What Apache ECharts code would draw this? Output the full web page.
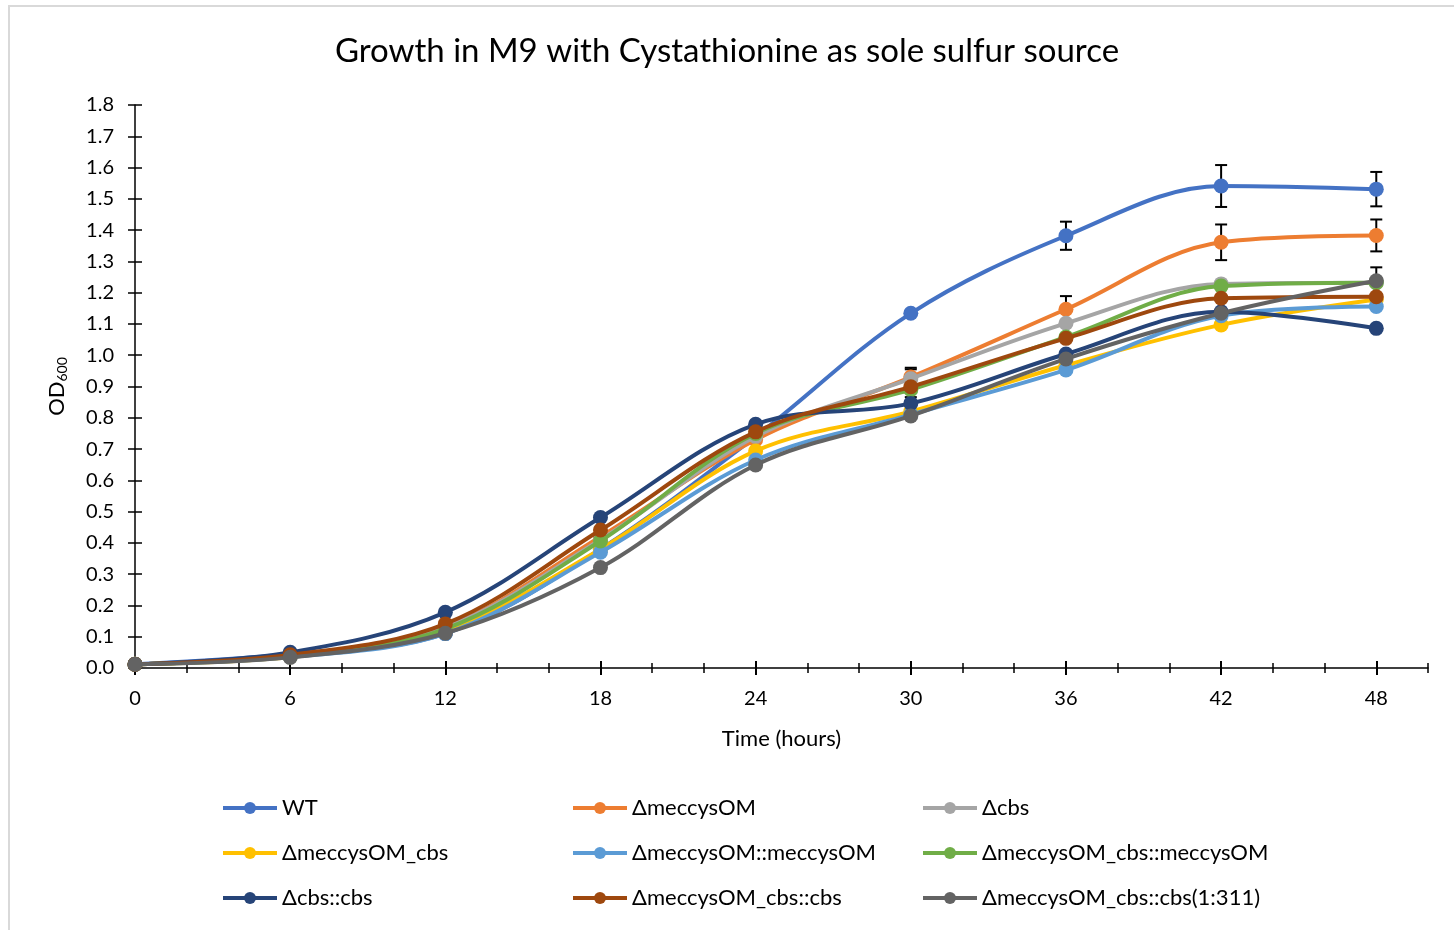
<!DOCTYPE html>
<html>
<head>
<meta charset="utf-8">
<script src="https://cdn.jsdelivr.net/npm/echarts@6/dist/echarts.min.js"></script>
<style>
html, body { margin: 0; padding: 0; background: #fff; }
#main { width: 1454px; height: 930px; }
</style>
</head>
<body>
<div id="main"></div>
<script>
// sampling times (hours) and labelled ticks
var hours = [0, 6, 12, 18, 24, 30, 36, 42, 48];
var hourLabels = [0, 6, 12, 18, 24, 30, 36, 42, 48];

var names = ['WT', 'ΔmeccysOM', 'Δcbs', 'ΔmeccysOM_cbs', 'ΔmeccysOM::meccysOM',
    'ΔmeccysOM_cbs::meccysOM', 'Δcbs::cbs', 'ΔmeccysOM_cbs::cbs', 'ΔmeccysOM_cbs::cbs(1:311)'];

// OD600 readings per strain
var wt        = [0.012, 0.045, 0.110, 0.380, 0.740, 1.134, 1.382, 1.541, 1.531];
var dMec      = [0.012, 0.040, 0.130, 0.420, 0.730, 0.930, 1.147, 1.361, 1.383];
var dCbs      = [0.012, 0.040, 0.130, 0.410, 0.740, 0.925, 1.102, 1.228, 1.232];
var dMecCbs   = [0.012, 0.035, 0.120, 0.380, 0.694, 0.820, 0.968, 1.097, 1.178];
var dMecMec   = [0.012, 0.035, 0.110, 0.370, 0.665, 0.810, 0.953, 1.126, 1.156];
var dMecCbsMec = [0.012, 0.038, 0.125, 0.406, 0.750, 0.890, 1.058, 1.221, 1.232];
var dCbsCbs   = [0.012, 0.050, 0.178, 0.481, 0.779, 0.846, 1.004, 1.139, 1.086];
var dMecCbsCbs = [0.012, 0.042, 0.141, 0.441, 0.755, 0.899, 1.054, 1.182, 1.187];
var dMecCbs311 = [0.012, 0.034, 0.111, 0.321, 0.649, 0.806, 0.988, 1.134, 1.238];

// standard deviations (only the visible ones)
var wtErr        = [0, 0, 0, 0, 0, 0, 0.045, 0.067, 0.055];
var dMecErr      = [0, 0, 0, 0, 0, 0.030, 0.042, 0.057, 0.051];
var dCbsErr      = [0, 0, 0, 0, 0, 0.030, 0, 0, 0];
var dCbsCbsErr   = [0, 0, 0, 0, 0, 0.020, 0, 0, 0];
var dMec311Err   = [0, 0, 0, 0, 0, 0, 0, 0, 0.043];

var values = [wt, dMec, dCbs, dMecCbs, dMecMec, dMecCbsMec, dCbsCbs, dMecCbsCbs, dMecCbs311];
var errors = [wtErr, dMecErr, dCbsErr, null, null, null, dCbsCbsErr, null, dMec311Err];
var colors = ['#4472C4', '#ED7D31', '#A5A5A5', '#FFC000', '#5B9BD5',
    '#70AD47', '#264478', '#9E480E', '#636363'];

var FONT = 'Lato';
var myChart = echarts.init(document.getElementById('main'));

var errData = [];
errors.forEach(function (err, i) {
    if (!err) return;
    err.forEach(function (e, j) {
        if (e > 0) errData.push([hours[j], values[i][j] - e, values[i][j] + e]);
    });
});

var series = [{
    type: 'custom',
    name: 'err',
    z: 1,
    data: errData,
    renderItem: function (params, api) {
        var x = api.value(0);
        var lo = api.coord([x, api.value(1)]);
        var hi = api.coord([x, api.value(2)]);
        var w = 6;
        var st = { stroke: '#000', lineWidth: 2 };
        return {
            type: 'group',
            children: [
                { type: 'line', shape: { x1: lo[0], y1: lo[1], x2: hi[0], y2: hi[1] }, style: st },
                { type: 'line', shape: { x1: lo[0] - w, y1: lo[1], x2: lo[0] + w, y2: lo[1] }, style: st },
                { type: 'line', shape: { x1: hi[0] - w, y1: hi[1], x2: hi[0] + w, y2: hi[1] }, style: st }
            ]
        };
    }
}];

names.forEach(function (n, i) {
    series.push({
        name: n,
        type: 'line',
        smooth: 0.35,
        z: 2 + i,
        symbol: 'circle',
        symbolSize: 15,
        showAllSymbol: true,
        itemStyle: { color: colors[i] },
        lineStyle: { width: 4, color: colors[i] },
        data: hours.map(function (h, j) { return [h, values[i][j]]; })
    });
});

function legendCol(left, items) {
    return {
        orient: 'vertical',
        left: left,
        top: 797,
        padding: 0,
        itemWidth: 54,
        itemHeight: 15,
        itemGap: 23,
        data: items,
        lineStyle: { width: 4 },
        textStyle: { fontFamily: FONT, fontSize: 22, color: '#000', lineHeight: 22 }
    };
}

var baseX = { type: 'value', min: 0, max: 50, interval: 2, position: 'bottom', splitLine: { show: false } };

option = {
    animation: false,
    backgroundColor: '#fff',
    title: {
        text: 'Growth in M9 with Cystathionine as sole sulfur source',
        left: 'center',
        top: 30,
        textStyle: { fontFamily: FONT, fontSize: 33, fontWeight: 'normal', color: '#000' }
    },
    graphic: [{
        type: 'rect',
        shape: { x: 9, y: 6, width: 1500, height: 1000 },
        style: { fill: 'none', stroke: '#d9d9d9', lineWidth: 2 }
    }],
    legend: [
        legendCol(221, [names[0], names[3], names[6]]),
        legendCol(571, [names[1], names[4], names[7]]),
        legendCol(921, [names[2], names[5], names[8]])
    ],
    grid: { left: 135, right: 26, top: 105, bottom: 262 },
    xAxis: [
        Object.assign({}, baseX, {
            name: 'Time (hours)',
            nameLocation: 'middle',
            nameGap: 60,
            nameTextStyle: { fontFamily: FONT, fontSize: 22, color: '#000' },
            axisLine: { lineStyle: { color: '#000', width: 1.5 } },
            axisTick: { length: 5, lineStyle: { color: '#000', width: 1.5 } },
            axisLabel: {
                customValues: hourLabels,
                margin: 21,
                fontFamily: FONT, fontSize: 20, color: '#000'
            }
        }),
        Object.assign({}, baseX, {
            axisLine: { show: false },
            axisTick: { inside: true, length: 5, lineStyle: { color: '#000', width: 1.5 } },
            axisLabel: { show: false }
        }),
        Object.assign({}, baseX, {
            axisLine: { show: false },
            axisTick: { customValues: hourLabels, length: 7, lineStyle: { color: '#000', width: 2 } },
            axisLabel: { show: false }
        }),
        Object.assign({}, baseX, {
            axisLine: { show: false },
            axisTick: { customValues: hourLabels, inside: true, length: 7, lineStyle: { color: '#000', width: 2 } },
            axisLabel: { show: false }
        })
    ],
    yAxis: [{
        type: 'value',
        min: 0,
        max: 1.8,
        interval: 0.1,
        position: 'left',
        name: '{a|OD}{b|600}',
        nameLocation: 'middle',
        nameGap: 66,
        nameTextStyle: {
            color: '#000',
            rich: {
                a: { fontFamily: FONT, fontSize: 22, color: '#000' },
                b: { fontFamily: FONT, fontSize: 14, color: '#000', verticalAlign: 'bottom', padding: [10, 0, 0, 0] }
            }
        },
        splitLine: { show: false },
        axisLine: { show: true, lineStyle: { color: '#000', width: 1.5 } },
        axisTick: { show: true, length: 7, lineStyle: { color: '#000', width: 1.5 } },
        axisLabel: {
            margin: 21,
            fontFamily: FONT, fontSize: 20, color: '#000',
            formatter: function (v) { return v.toFixed(1); }
        }
    }, {
        type: 'value',
        min: 0,
        max: 1.8,
        interval: 0.1,
        position: 'left',
        splitLine: { show: false },
        axisLine: { show: false },
        axisTick: { show: true, inside: true, length: 7, lineStyle: { color: '#000', width: 1.5 } },
        axisLabel: { show: false }
    }],
    series: series
};

myChart.setOption(option);
</script>
</body>
</html>
